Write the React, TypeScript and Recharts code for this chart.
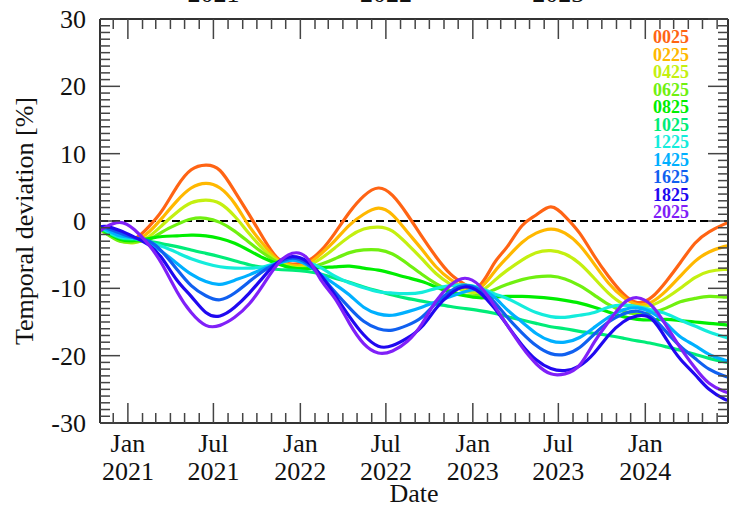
import { LineChart, Line, XAxis, YAxis, ReferenceLine } from "recharts";

// sample dates (mid-month), plus first/last day of the record
const dates = [
  "2020-11-03", "2020-11-15", "2020-12-15",
  "2021-01-15", "2021-02-15", "2021-03-15", "2021-04-15", "2021-05-15", "2021-06-15",
  "2021-07-15", "2021-08-15", "2021-09-15", "2021-10-15", "2021-11-15", "2021-12-15",
  "2022-01-15", "2022-02-15", "2022-03-15", "2022-04-15", "2022-05-15", "2022-06-15",
  "2022-07-15", "2022-08-15", "2022-09-15", "2022-10-15", "2022-11-15", "2022-12-15",
  "2023-01-15", "2023-02-15", "2023-03-15", "2023-04-15", "2023-05-15", "2023-06-15",
  "2023-07-15", "2023-08-15", "2023-09-15", "2023-10-15", "2023-11-15", "2023-12-15",
  "2024-01-15", "2024-02-15", "2024-03-15", "2024-04-15", "2024-05-15", "2024-06-15",
  "2024-06-24",
];

const s0025 = [-1.0, -1.4, -2.2, -2.6, -0.8, 1.6, 5.1, 7.6, 8.3, 7.5, 4.4, 0.9, -2.6, -5.6, -6.4, -6.0, -4.3, -1.8, 1.3, 3.7, 4.9, 3.8, 1.0, -2.3, -5.3, -7.9, -9.4, -9.6, -6.3, -3.8, -0.7, 0.9, 2.1, 0.7, -1.8, -5.2, -8.2, -10.8, -12.1, -11.3, -8.9, -6.2, -3.3, -1.6, -0.5, -0.3];
const s0225 = [-1.2, -1.6, -2.5, -2.9, -1.6, 0.5, 3.0, 4.9, 5.6, 4.9, 2.6, -0.8, -3.5, -5.8, -6.6, -6.4, -4.8, -2.9, -0.6, 1.0, 1.9, 0.9, -1.6, -4.2, -6.8, -8.7, -9.9, -10.0, -7.6, -5.4, -3.2, -1.8, -1.2, -1.8, -3.6, -6.4, -9.2, -11.3, -12.4, -12.0, -10.3, -8.2, -6.0, -4.6, -3.8, -3.7];
const s0425 = [-1.3, -1.8, -2.9, -3.2, -2.3, -0.6, 1.3, 2.7, 3.1, 2.6, 0.7, -1.9, -4.2, -6.0, -6.8, -6.7, -5.5, -4.0, -2.3, -1.2, -0.9, -1.5, -3.4, -5.6, -7.8, -9.4, -10.4, -10.5, -8.9, -7.3, -5.8, -4.7, -4.4, -4.9, -6.3, -8.5, -10.7, -12.3, -12.8, -12.5, -11.4, -10.0, -8.4, -7.5, -7.2, -7.2];
const s0625 = [-1.3, -1.8, -3.0, -3.1, -2.7, -1.6, -0.5, 0.3, 0.4, -0.2, -1.5, -3.2, -4.8, -6.2, -7.0, -7.0, -6.4, -5.6, -4.7, -4.3, -4.3, -4.9, -6.3, -7.9, -9.3, -10.4, -11.0, -11.0, -10.2, -9.4, -8.7, -8.3, -8.2, -8.6, -9.6, -11.0, -12.4, -13.4, -13.8, -13.6, -12.9, -12.0, -11.5, -11.2, -11.3, -11.3];
const s0825 = [-1.2, -1.6, -2.7, -2.9, -2.6, -2.3, -2.2, -2.1, -2.2, -2.6, -3.3, -4.4, -5.5, -6.4, -7.0, -7.1, -6.9, -6.8, -6.7, -7.0, -7.3, -7.8, -8.4, -9.0, -9.8, -10.6, -11.1, -11.4, -11.3, -11.2, -11.2, -11.3, -11.5, -11.8, -12.2, -12.8, -13.5, -14.2, -14.6, -14.7, -14.6, -14.8, -15.0, -15.2, -15.4, -15.5];
const s1025 = [-1.1, -1.5, -2.5, -2.7, -3.0, -3.4, -3.8, -4.3, -4.8, -5.3, -5.9, -6.5, -6.9, -7.2, -7.3, -7.5, -7.9, -8.5, -9.1, -9.8, -10.4, -11.0, -11.5, -11.9, -12.3, -12.7, -13.0, -13.3, -13.7, -14.2, -14.7, -15.2, -15.7, -16.0, -16.4, -16.7, -17.0, -17.4, -17.8, -18.2, -18.7, -19.2, -19.8, -20.4, -20.9, -21.0];
const s1225 = [-1.0, -1.4, -2.4, -2.6, -3.2, -3.8, -4.7, -5.6, -6.3, -6.8, -7.0, -7.0, -6.8, -6.2, -5.8, -6.1, -7.0, -8.2, -9.2, -9.9, -10.5, -10.7, -10.8, -10.6, -10.0, -9.6, -9.5, -9.9, -10.8, -11.5, -12.6, -13.6, -14.2, -14.3, -14.0, -13.6, -12.8, -12.5, -12.7, -13.2, -13.8, -14.7, -15.6, -16.5, -17.2, -17.4];
const s1425 = [-1.0, -1.2, -2.2, -2.5, -3.3, -4.6, -6.3, -7.9, -9.0, -9.4, -8.8, -8.0, -7.1, -6.3, -5.8, -6.5, -8.0, -9.4, -11.0, -12.8, -13.8, -14.0, -13.5, -12.8, -12.0, -11.2, -10.5, -10.2, -11.3, -13.2, -15.0, -16.7, -17.8, -18.0, -17.3, -15.8, -14.3, -13.2, -12.9, -13.6, -15.3, -17.2, -18.5, -19.8, -20.6, -20.8];
const s1625 = [-0.9, -1.0, -1.8, -2.5, -3.0, -4.6, -7.2, -9.6, -11.1, -11.7, -10.7, -9.0, -7.4, -6.2, -5.5, -6.3, -8.3, -10.5, -12.9, -14.9, -16.0, -16.2, -15.5, -14.3, -12.2, -10.4, -9.6, -10.2, -12.0, -14.3, -16.6, -18.5, -19.7, -19.8, -18.8, -16.8, -15.0, -13.8, -13.4, -14.3, -16.5, -18.6, -20.4, -22.0, -23.0, -23.2];
const s1825 = [-0.9, -0.8, -1.4, -2.4, -3.6, -5.6, -8.8, -11.2, -13.6, -14.1, -12.8, -10.7, -8.3, -6.1, -5.3, -6.0, -8.2, -11.0, -14.2, -16.9, -18.6, -18.5, -17.4, -15.7, -13.0, -10.8, -9.8, -10.6, -12.9, -15.5, -18.4, -20.6, -21.9, -22.2, -21.5, -19.6, -17.0, -15.0, -14.1, -14.6, -17.6, -20.5, -22.8, -25.0, -26.4, -26.6];
const s2025 = [-1.5, -0.9, -0.2, -1.3, -3.6, -6.5, -10.5, -13.6, -15.5, -15.5, -14.3, -12.3, -9.4, -6.3, -4.8, -5.5, -8.9, -11.5, -15.2, -18.2, -19.6, -19.3, -17.9, -15.3, -11.9, -9.5, -8.5, -9.6, -12.5, -15.5, -18.7, -21.2, -22.7, -22.7, -21.4, -18.0, -15.0, -12.3, -11.4, -12.6, -15.6, -18.8, -21.8, -24.1, -25.3, -25.5];

const seriesNames = ["0025", "0225", "0425", "0625", "0825", "1025", "1225", "1425", "1625", "1825", "2025"];
const seriesValues = [s0025, s0225, s0425, s0625, s0825, s1025, s1225, s1425, s1625, s1825, s2025];
const seriesColors = ["#ff6414", "#ffb800", "#c4f010", "#70f010", "#00ee00", "#00ec78", "#14ecdc", "#00b0ff", "#1060f0", "#2008f0", "#8020f8"];

// bottom tick labels (Jan / Jul)
const bottomTickDates = ["2021-01-01", "2021-07-01", "2022-01-01", "2022-07-01", "2023-01-01", "2023-07-01", "2024-01-01"];
const bottomTickMonths = ["Jan", "Jul", "Jan", "Jul", "Jan", "Jul", "Jan"];
const bottomTickYears = ["2021", "2021", "2022", "2022", "2023", "2023", "2024"];
// top tick labels (year, centred on Jul)
const topTickDates = ["2021-07-01", "2022-07-01", "2023-07-01"];
const topTickLabels = ["2021", "2022", "2023"];

const yMajorLabels = [-30, -20, -10, 0, 10, 20, 30];

const toTime = (d: string) => Date.parse(d + "T00:00:00Z");
const xStart = toTime(dates[0]);
const xEnd = toTime(dates[dates.length - 1]);

const chartData = dates.map((d, i) => {
  const row: any = { t: toTime(d) };
  seriesNames.forEach((n, k) => {
    row["v" + n] = seriesValues[k][i];
  });
  return row;
});

const monthTicks: number[] = [];
for (let y = 2020; y <= 2024; y++) {
  for (let m = 0; m < 12; m++) {
    const t = Date.UTC(y, m, 1);
    if (t >= xStart && t <= xEnd) monthTicks.push(t);
  }
}
const yTicks: number[] = [];
for (let v = -30; v <= 30; v++) yTicks.push(v);

const FONT = "'Liberation Serif', 'DejaVu Serif', serif";
const TICK_COLOR = "#444";
const FRAME_COLOR = "#333";

const isMajorMonth = (t: number) => {
  const m = new Date(t).getUTCMonth();
  return m === 0 || m === 6;
};

const BottomTick = (props: any) => {
  const { x, y, payload } = props;
  const idx = bottomTickDates.map(toTime).indexOf(payload.value);
  const len = isMajorMonth(payload.value) ? 20 : 10;
  return (
    <g>
      <line x1={x} y1={y} x2={x} y2={y - len} stroke={TICK_COLOR} strokeWidth={1.5} />
      {idx >= 0 && (
        <text textAnchor="middle" fontSize={26} fill="#111" fontFamily={FONT}>
          <tspan x={x} y={y + 29}>{bottomTickMonths[idx]}</tspan>
          <tspan x={x} y={y + 57}>{bottomTickYears[idx]}</tspan>
        </text>
      )}
    </g>
  );
};

const TopTick = (props: any) => {
  const { x, y, payload } = props;
  const idx = topTickDates.map(toTime).indexOf(payload.value);
  const len = isMajorMonth(payload.value) ? 20 : 10;
  return (
    <g>
      <line x1={x} y1={y} x2={x} y2={y + len} stroke={TICK_COLOR} strokeWidth={1.5} />
      {idx >= 0 && (
        <text x={x} y={y - 17} textAnchor="middle" fontSize={26} fill="#111" fontFamily={FONT}>
          {topTickLabels[idx]}
        </text>
      )}
    </g>
  );
};

const LeftTick = (props: any) => {
  const { x, y, payload } = props;
  const major = payload.value % 10 === 0;
  return (
    <g>
      <line x1={x} y1={y} x2={x + (major ? 20 : 10)} y2={y} stroke={TICK_COLOR} strokeWidth={1.5} />
      {yMajorLabels.includes(payload.value) && (
        <text x={x - 14} y={y + 9} textAnchor="end" fontSize={26} fill="#111" fontFamily={FONT}>
          {payload.value}
        </text>
      )}
    </g>
  );
};

const RightTick = (props: any) => {
  const { x, y, payload } = props;
  const major = payload.value % 10 === 0;
  return <line x1={x} y1={y} x2={x - (major ? 20 : 10)} y2={y} stroke={TICK_COLOR} strokeWidth={1.5} />;
};

const YTitle = (props: any) => {
  const vb = props.viewBox;
  const cx = vb.x + 33;
  const cy = vb.y + vb.height / 2;
  return (
    <text x={cx} y={cy} transform={`rotate(-90 ${cx} ${cy})`} textAnchor="middle" fontSize={26} fill="#111" fontFamily={FONT}>
      Temporal deviation [%]
    </text>
  );
};

const XTitle = (props: any) => {
  const vb = props.viewBox;
  return (
    <text x={vb.x + vb.width / 2} y={vb.y + 79} textAnchor="middle" fontSize={26} fill="#111" fontFamily={FONT}>
      Date
    </text>
  );
};

export default function App() {
  return (
    <div style={{ position: "absolute", left: 0, top: 0, width: 730, height: 506, background: "#fff" }}>
      <LineChart width={730} height={506} data={chartData} margin={{ top: 0, right: 0, bottom: 0, left: 0 }}>
        <XAxis
          dataKey="t"
          type="number"
          domain={[xStart, xEnd]}
          allowDataOverflow
          ticks={monthTicks}
          interval={0}
          height={83}
          tickSize={0}
          tickMargin={0}
          tick={(p: any) => <BottomTick {...p} />}
          axisLine={{ stroke: FRAME_COLOR, strokeWidth: 2 }}
          label={<XTitle />}
        />
        <XAxis
          xAxisId="top"
          orientation="top"
          dataKey="t"
          type="number"
          domain={[xStart, xEnd]}
          allowDataOverflow
          ticks={monthTicks}
          interval={0}
          height={19}
          tickSize={0}
          tickMargin={0}
          tick={(p: any) => <TopTick {...p} />}
          axisLine={{ stroke: FRAME_COLOR, strokeWidth: 2 }}
        />
        <YAxis
          type="number"
          domain={[-30, 30]}
          allowDataOverflow
          ticks={yTicks}
          interval={0}
          width={100}
          tickSize={0}
          tickMargin={0}
          tick={(p: any) => <LeftTick {...p} />}
          axisLine={{ stroke: FRAME_COLOR, strokeWidth: 2 }}
          label={<YTitle />}
        />
        <YAxis
          yAxisId="right"
          orientation="right"
          type="number"
          domain={[-30, 30]}
          allowDataOverflow
          ticks={yTicks}
          interval={0}
          width={2}
          tickSize={0}
          tickMargin={0}
          tick={(p: any) => <RightTick {...p} />}
          axisLine={{ stroke: FRAME_COLOR, strokeWidth: 2 }}
        />
        <ReferenceLine y={0} stroke="#000" strokeWidth={2} strokeDasharray="8 4" />
        {seriesNames.map((n, k) => (
          <Line
            key={n}
            dataKey={"v" + n}
            name={n}
            type="natural"
            stroke={seriesColors[k]}
            strokeWidth={3.2}
            dot={false}
            activeDot={false}
            isAnimationActive={false}
          />
        ))}
      </LineChart>
      <div style={{ position: "absolute", left: 653, top: 29, fontFamily: FONT, fontWeight: "bold", fontSize: 18, lineHeight: "17.5px" }}>
        {seriesNames.map((n, k) => (
          <div key={n} style={{ color: seriesColors[k] }}>{n}</div>
        ))}
      </div>
    </div>
  );
}
